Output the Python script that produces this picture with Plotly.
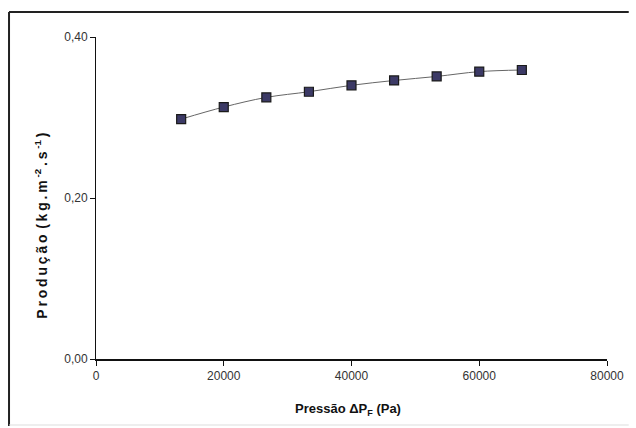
import plotly.graph_objects as go

pressao = [13333, 20000, 26667, 33333, 40000, 46667, 53333, 60000, 66667]
producao = [0.298, 0.313, 0.325, 0.332, 0.340, 0.346, 0.351, 0.357, 0.359]

x_ticks = [0, 20000, 40000, 60000, 80000]
x_labels = ["0", "20000", "40000", "60000", "80000"]
y_ticks = [0.0, 0.2, 0.4]
y_labels = ["0,00", "0,20", "0,40"]

W, H = 636, 428
L, R, T, B = 96, 23, 37, 69
pw, ph = W - L - R, H - T - B

fig = go.Figure()
fig.add_trace(go.Scatter(
    x=pressao, y=producao, mode="lines+markers",
    line=dict(color="#666666", width=1, shape="spline"),
    marker=dict(symbol="square", size=9, color="#3c3a66",
                line=dict(color="#1a1a1a", width=1.2)),
    showlegend=False,
))

tickfont = dict(family="Liberation Sans Narrow, Arial Narrow, Liberation Sans, sans-serif",
                size=12, color="#333333")

fig.update_layout(
    width=W, height=H,
    margin=dict(l=L, r=R, t=T, b=B),
    paper_bgcolor="white", plot_bgcolor="white",
    xaxis=dict(range=[0, 80000], tickvals=x_ticks, ticktext=x_labels,
               showgrid=False, zeroline=False, showline=True,
               linecolor="#111111", linewidth=2, ticks="outside",
               ticklen=5, tickcolor="#111111", tickfont=tickfont),
    yaxis=dict(range=[0, 0.4], tickvals=y_ticks, ticktext=y_labels,
               showgrid=False, zeroline=False, showline=True,
               linecolor="#111111", linewidth=1, ticks="outside",
               ticklen=5, tickcolor="#111111", tickfont=tickfont),
)

# x-axis title
fig.add_annotation(
    xref="paper", yref="paper", x=(351 - L) / pw, y=(359 - 410) / ph,
    text="<b>Pressão ΔP<sub>F</sub> (Pa)</b>", showarrow=False,
    font=dict(family="Liberation Sans Narrow, Arial Narrow, Liberation Sans, sans-serif",
              size=13, color="#111111"),
    xanchor="center", yanchor="middle",
)
# y-axis title
ytitle = "<b>P r o d u ç ã o  ( k g . m <sup>-2</sup> . s <sup>-1</sup> )</b>".replace(" ", "\u2009")
fig.add_annotation(
    xref="paper", yref="paper", x=(40 - L) / pw, y=(359 - 226) / ph,
    text=ytitle, showarrow=False, textangle=-90,
    font=dict(family="Liberation Sans, Arial, sans-serif", size=14, color="#111111"),
    xanchor="center", yanchor="middle",
)

# outer frame (top and left edges visible)
fig.add_shape(type="line", xref="paper", yref="paper",
              x0=(8 - L) / pw, x1=(635 - L) / pw, y0=(359 - 12) / ph, y1=(359 - 12) / ph,
              line=dict(color="#222222", width=2))
fig.add_shape(type="line", xref="paper", yref="paper",
              x0=(8 - L) / pw, x1=(8 - L) / pw, y0=(359 - 12) / ph, y1=(359 - 426) / ph,
              line=dict(color="#222222", width=2))
fig.add_shape(type="line", xref="paper", yref="paper",
              x0=(8 - L) / pw, x1=(635 - L) / pw, y0=(359 - 425) / ph, y1=(359 - 425) / ph,
              line=dict(color="#dddddd", width=1))

fig.write_html("out.html")
